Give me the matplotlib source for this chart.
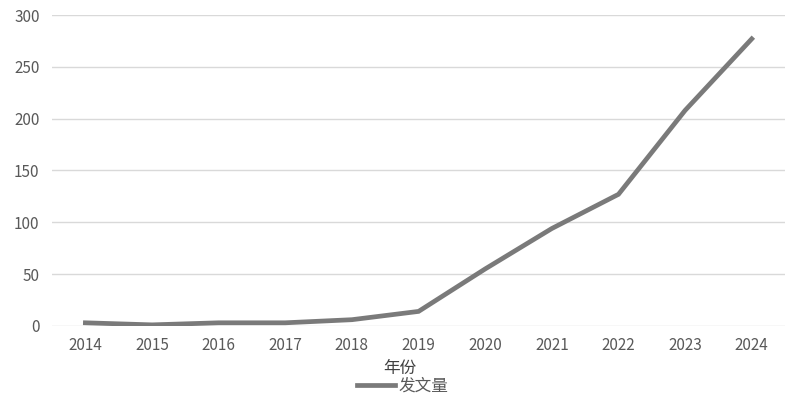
import matplotlib
matplotlib.use("Agg")
import matplotlib.pyplot as plt
from matplotlib.lines import Line2D

plt.rcParams['font.family'] = ['Noto Sans CJK SC', 'DejaVu Sans']

years = ["2014", "2015", "2016", "2017", "2018", "2019", "2020", "2021", "2022", "2023", "2024"]
counts = [3, 1, 3, 3, 6, 14, 55, 94, 127, 208, 277]
yticks = [0, 50, 100, 150, 200, 250, 300]

fig = plt.figure(figsize=(7.89, 3.96), dpi=100)
ax = fig.add_axes([0.066, 0.177, 0.929, 0.785])
x = list(range(len(years)))
ax.plot(x, counts, color='#7a7a7a', linewidth=3.4, solid_joinstyle='miter', zorder=3)
ax.set_xlim(-0.5, len(years) - 0.5)
ax.set_ylim(0, 300)
ax.set_yticks(yticks)
ax.set_xticks(x)
ax.set_xticklabels(years)
for s in ax.spines.values():
    s.set_visible(False)
ax.grid(axis='y', color='#d9d9d9', linewidth=1)
ax.set_axisbelow(True)
ax.tick_params(axis='both', length=0, labelsize=11, colors='#595959')
ax.tick_params(axis='x', pad=8)
ax.tick_params(axis='y', pad=9)
fig.text(0.507, 0.07, "年份", ha='center', va='center', fontsize=12, color='#404040')
handle = Line2D([0], [0], color='#7a7a7a', linewidth=3.4)
fig.legend([handle], ["发文量"], loc='center', bbox_to_anchor=(0.51, 0.025),
           frameon=False, fontsize=12, labelcolor='#595959', handlelength=2.3,
           handletextpad=0.2, borderpad=0)
fig.savefig("out.png", dpi=100)
